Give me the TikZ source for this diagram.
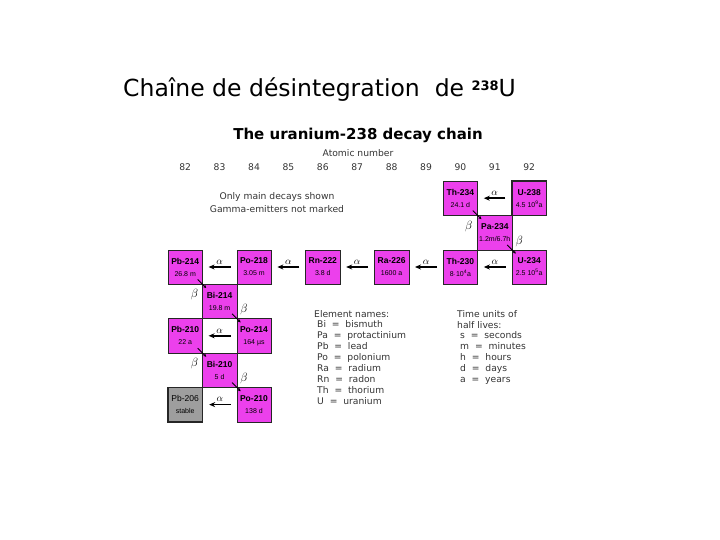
\documentclass[tikz,border=0pt]{standalone}
\usepackage{fontspec}
\setmainfont{Liberation Sans}
\newfontfamily\headfont{DejaVu Sans}
\newfontfamily\widefont{DejaVu Sans}
\usepackage{xcolor}
\usetikzlibrary{arrows.meta}
\definecolor{nucpink}{RGB}{236,64,236}
\definecolor{stablegray}{RGB}{158,158,158}
\tikzstyle{nuclide}=[rectangle, draw=black!85, fill=nucpink, minimum size=34.4pt, inner sep=0pt, align=center, font=\fontsize{8.5}{10}\selectfont]
\tikzstyle{alphaarrow}=[-{Stealth[length=6pt,width=5pt]}, line width=1.6pt]
\tikzstyle{betaarrow}=[-{Stealth[length=3pt,width=3pt]}, line width=0.9pt]
\tikzstyle{alphalabel}=[midway, above=1pt, inner sep=1pt, font=\fontsize{10}{10}\selectfont]
\tikzstyle{betalabel}=[inner sep=0pt, font=\fontsize{11.5}{11}\selectfont]
\tikzstyle{smalltext}=[inner sep=0pt, text=black!80, font=\widefont\fontsize{9.2}{11}\selectfont]
\newcommand{\nuclide}{\node[nuclide]}
\newcommand{\halflife}[1]{{\fontsize{7}{7}\selectfont #1}}

\begin{document}
\begin{tikzpicture}[x=1pt,y=-1pt]
\useasboundingbox (0,0) rectangle (720,540);
\node[anchor=base west, inner sep=0pt] (heading) at (123,97) {\headfont\fontsize{23.5}{26}\selectfont Chaîne de désintegration~~de {\fontsize{13}{13}\selectfont\bfseries\raisebox{6pt}{238}}U};
\node[anchor=base, inner sep=0pt] (title) at (358,140) {\widefont\bfseries\fontsize{15}{18}\selectfont The uranium-238 decay chain};
\node[smalltext, anchor=base] (atomic) at (358,157) {Atomic number};
\foreach \z [count=\i from 0] in {82,...,92}{
	\node[smalltext, anchor=base] (z\z) at (185.2+34.4*\i,171) {\z};
	}
\node[smalltext, anchor=base] (note1) at (277,200) {Only main decays shown};
\node[smalltext, anchor=base] (note2) at (277,212) {Gamma-emitters not marked};

% the chain
\nuclide (U238) at (529.2,198.2)[line width=1.5pt] {\textbf{U-238}\\[2pt] \halflife{4.5 10\textsuperscript{9}a}};
\nuclide (Th234) at (460.4,198.2) {\textbf{Th-234}\\[2pt] \halflife{24.1 d}};
\nuclide (Pa234) at (494.8,232.6) {\textbf{Pa-234}\\[2pt] \halflife{1.2m/6.7h}};
\nuclide (U234) at (529.2,267) {\textbf{U-234}\\[2pt] \halflife{2.5 10\textsuperscript{5}a}};
\nuclide (Th230) at (460.4,267) {\textbf{Th-230}\\[2pt] \halflife{8$\cdot$10\textsuperscript{4}a}};
\nuclide (Ra226) at (391.6,267) {\textbf{Ra-226}\\[2pt] \halflife{1600 a}};
\nuclide (Rn222) at (322.8,267) {\textbf{Rn-222}\\[2pt] \halflife{3.8 d}};
\nuclide (Po218) at (254,267) {\textbf{Po-218}\\[2pt] \halflife{3.05 m}};
\nuclide (Pb214) at (185.2,267) {\textbf{Pb-214}\\[2pt] \halflife{26.8 m}};
\nuclide (Bi214) at (219.6,301.4) {\textbf{Bi-214}\\[2pt] \halflife{19.8 m}};
\nuclide (Po214) at (254,335.8) {\textbf{Po-214}\\[2pt] \halflife{164 µs}};
\nuclide (Pb210) at (185.2,335.8) {\textbf{Pb-210}\\[2pt] \halflife{22 a}};
\nuclide (Bi210) at (219.6,370.2) {\textbf{Bi-210}\\[2pt] \halflife{5 d}};
\nuclide (Po210) at (254,404.6) {\textbf{Po-210}\\[2pt] \halflife{138 d}};
\nuclide (Pb206) at (185.2,404.6)[fill=stablegray, line width=1.5pt] {Pb-206\\[2pt] \halflife{stable}};

% alpha decays
\draw[alphaarrow] ([xshift=-6pt]U238.west) -- ([xshift=6pt]Th234.east) node[alphalabel] (a1) {$\alpha$};
\draw[alphaarrow] ([xshift=-6pt]U234.west) -- ([xshift=6pt]Th230.east) node[alphalabel] (a2) {$\alpha$};
\draw[alphaarrow] ([xshift=-6pt]Th230.west) -- ([xshift=6pt]Ra226.east) node[alphalabel] (a3) {$\alpha$};
\draw[alphaarrow] ([xshift=-6pt]Ra226.west) -- ([xshift=6pt]Rn222.east) node[alphalabel] (a4) {$\alpha$};
\draw[alphaarrow] ([xshift=-6pt]Rn222.west) -- ([xshift=6pt]Po218.east) node[alphalabel] (a5) {$\alpha$};
\draw[alphaarrow] ([xshift=-6pt]Po218.west) -- ([xshift=6pt]Pb214.east) node[alphalabel] (a6) {$\alpha$};
\draw[alphaarrow] ([xshift=-6pt]Po214.west) -- ([xshift=6pt]Pb210.east) node[alphalabel] (a7) {$\alpha$};
\draw[alphaarrow] ([xshift=-6pt]Po210.west) -- ([xshift=6pt]Pb206.east) node[alphalabel] (a8) {$\alpha$};

% beta decays
\draw[betaarrow] ([shift={(-5,-5)}]Th234.south east) -- ([shift={(4,4)}]Pa234.north west);
\draw[betaarrow] ([shift={(-5,-5)}]Pa234.south east) -- ([shift={(4,4)}]U234.north west);
\draw[betaarrow] ([shift={(-5,-5)}]Pb214.south east) -- ([shift={(4,4)}]Bi214.north west);
\draw[betaarrow] ([shift={(-5,-5)}]Bi214.south east) -- ([shift={(4,4)}]Po214.north west);
\draw[betaarrow] ([shift={(-5,-5)}]Pb210.south east) -- ([shift={(4,4)}]Bi210.north west);
\draw[betaarrow] ([shift={(-5,-5)}]Bi210.south east) -- ([shift={(4,4)}]Po210.north west);
\node[betalabel] (b1) at ([shift={(-9,11)}]Th234.south east) {$\beta$};
\node[betalabel] (b2) at ([shift={(7,-9)}]Pa234.south east) {$\beta$};
\node[betalabel] (b3) at ([shift={(-8,10)}]Pb214.south east) {$\beta$};
\node[betalabel] (b4) at ([shift={(7,-9)}]Bi214.south east) {$\beta$};
\node[betalabel] (b5) at ([shift={(-8,10)}]Pb210.south east) {$\beta$};
\node[betalabel] (b6) at ([shift={(7,-9)}]Bi210.south east) {$\beta$};

% legends
\node[smalltext, anchor=base west] (elem) at (314,317) {Element names:};
\foreach \s/\n [count=\i] in {Bi/bismuth, Pa/protactinium, Pb/lead, Po/polonium, Ra/radium, Rn/radon, Th/thorium, U/uranium}{
	\node[smalltext, anchor=base west] (el\i) at (317,317+10.9*\i) {\s~~=~~\n};
	}
\node[smalltext, anchor=base west] (units) at (457,317) {Time units of};
\node[smalltext, anchor=base west] (units2) at (457,328) {half lives:};
\foreach \s/\n [count=\i] in {s/seconds, m/minutes, h/hours, d/days, a/years}{
	\node[smalltext, anchor=base west] (tu\i) at (460,328+10.9*\i) {\s~~=~~\n};
	}
\end{tikzpicture}
\end{document}
